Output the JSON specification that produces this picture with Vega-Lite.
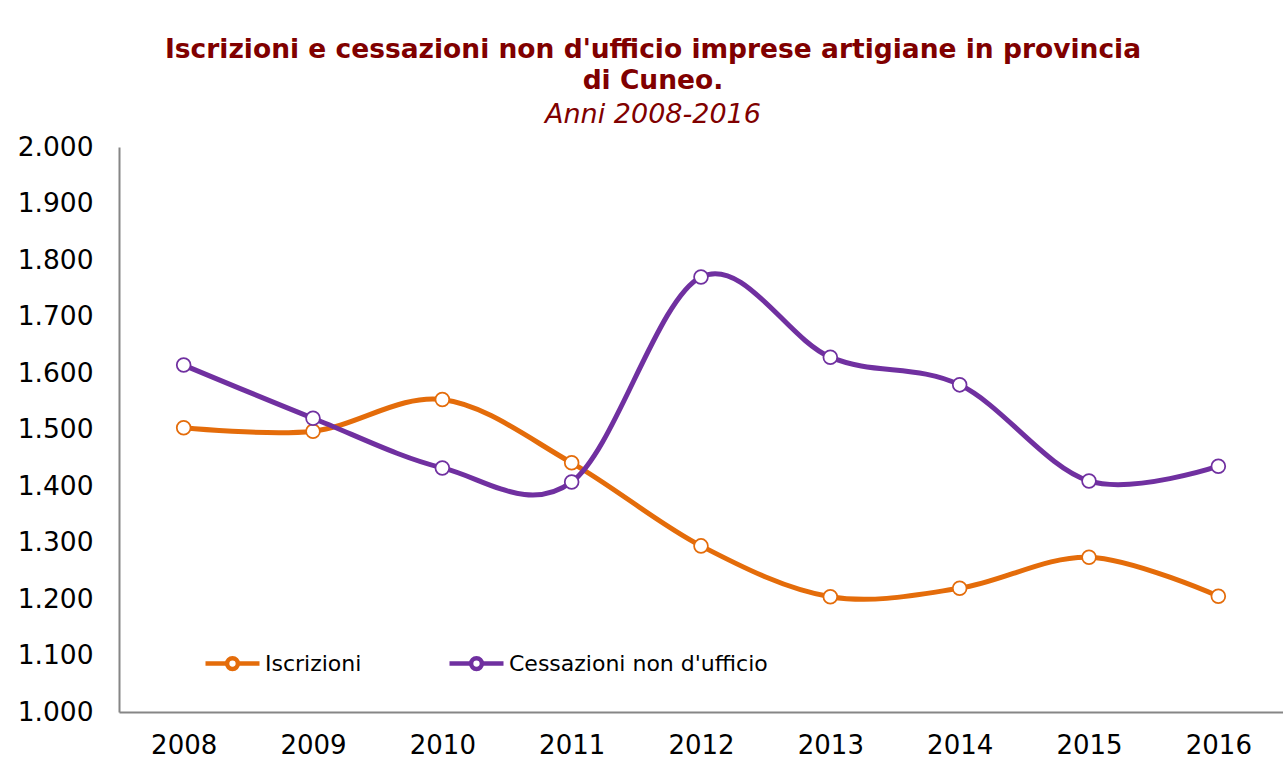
{
  "$schema": "https://vega.github.io/schema/vega-lite/v6.json",
  "autosize": {"type": "none"},
  "padding": {"left": 119, "top": 147, "right": 0, "bottom": 60},
  "width": 1164,
  "height": 565,
  "background": "white",
  "title": {
    "text": ["Iscrizioni e cessazioni non d'ufficio imprese artigiane in provincia", "di Cuneo."],
    "subtitle": "Anni 2008-2016",
    "anchor": "middle",
    "dx": -48,
    "font": "DejaVu Sans",
    "fontSize": 26.5,
    "fontWeight": "bold",
    "color": "#800000",
    "lineHeight": 31,
    "subtitleFont": "DejaVu Sans",
    "subtitleFontSize": 27,
    "subtitleFontStyle": "italic",
    "subtitleColor": "#800000",
    "subtitlePadding": 8,
    "offset": 6
  },
  "data": {
    "values": [
      {"anno": "2008", "serie": "Iscrizioni", "valore": 1503},
      {"anno": "2009", "serie": "Iscrizioni", "valore": 1497},
      {"anno": "2010", "serie": "Iscrizioni", "valore": 1553},
      {"anno": "2011", "serie": "Iscrizioni", "valore": 1441},
      {"anno": "2012", "serie": "Iscrizioni", "valore": 1294},
      {"anno": "2013", "serie": "Iscrizioni", "valore": 1204},
      {"anno": "2014", "serie": "Iscrizioni", "valore": 1219},
      {"anno": "2015", "serie": "Iscrizioni", "valore": 1274},
      {"anno": "2016", "serie": "Iscrizioni", "valore": 1205},
      {"anno": "2008", "serie": "Cessazioni non d'ufficio", "valore": 1614},
      {"anno": "2009", "serie": "Cessazioni non d'ufficio", "valore": 1520},
      {"anno": "2010", "serie": "Cessazioni non d'ufficio", "valore": 1432},
      {"anno": "2011", "serie": "Cessazioni non d'ufficio", "valore": 1407},
      {"anno": "2012", "serie": "Cessazioni non d'ufficio", "valore": 1770},
      {"anno": "2013", "serie": "Cessazioni non d'ufficio", "valore": 1628},
      {"anno": "2014", "serie": "Cessazioni non d'ufficio", "valore": 1579},
      {"anno": "2015", "serie": "Cessazioni non d'ufficio", "valore": 1409},
      {"anno": "2016", "serie": "Cessazioni non d'ufficio", "valore": 1435}
    ]
  },
  "encoding": {
    "x": {
      "field": "anno",
      "type": "ordinal",
      "scale": {"type": "point", "padding": 0.5},
      "axis": {
        "title": null,
        "labelAngle": 0,
        "ticks": false,
        "domainColor": "#868686",
        "domainWidth": 2,
        "labelFont": "DejaVu Sans",
        "labelFontSize": 26,
        "labelColor": "#000000",
        "labelPadding": 20,
        "grid": false
      }
    },
    "y": {
      "field": "valore",
      "type": "quantitative",
      "scale": {"domain": [1000, 2000], "nice": false, "zero": false},
      "axis": {
        "title": null,
        "values": [1000, 1100, 1200, 1300, 1400, 1500, 1600, 1700, 1800, 1900, 2000],
        "labelExpr": "replace(format(datum.value, ','), ',', '.')",
        "ticks": false,
        "grid": false,
        "domainColor": "#868686",
        "domainWidth": 2,
        "labelFont": "DejaVu Sans",
        "labelFontSize": 26.5,
        "labelColor": "#000000",
        "labelPadding": 26
      }
    }
  },
  "layer": [
    {
      "mark": {"type": "line", "interpolate": "cardinal", "tension": 0, "strokeWidth": 5},
      "encoding": {
        "color": {
          "field": "serie",
          "type": "nominal",
          "scale": {"domain": ["Iscrizioni", "Cessazioni non d'ufficio"], "range": ["#E46C0A", "#7030A0"]},
          "legend": {
            "title": null,
            "orient": "none",
            "legendX": 84,
            "legendY": 487,
            "direction": "horizontal",
            "symbolType": "M-1,0H-0.2A0.2,0.2 0 1,1 0.2,0A0.2,0.2 0 1,1 -0.2,0M0.2,0H1",
            "symbolSize": 2916,
            "symbolStrokeWidth": 4.5,
            "symbolFillColor": "white",
            "labelFont": "DejaVu Sans",
            "labelFontSize": 22,
            "labelColor": "#000000",
            "labelOffset": 3,
            "labelLimit": 400,
            "columnPadding": 78,
            "encode": {"symbols": {"update": {"fill": {"value": "white"}, "fillOpacity": {"value": 1}}}}
          }
        }
      }
    },
    {
      "mark": {"type": "point", "shape": "circle", "filled": true, "fill": "white", "size": 190, "strokeWidth": 1.75, "opacity": 1},
      "encoding": {"stroke": {"field": "serie", "type": "nominal", "scale": {"domain": ["Iscrizioni", "Cessazioni non d'ufficio"], "range": ["#E46C0A", "#7030A0"]}, "legend": null}}
    }
  ],
  "config": {"view": {"stroke": null}}
}
